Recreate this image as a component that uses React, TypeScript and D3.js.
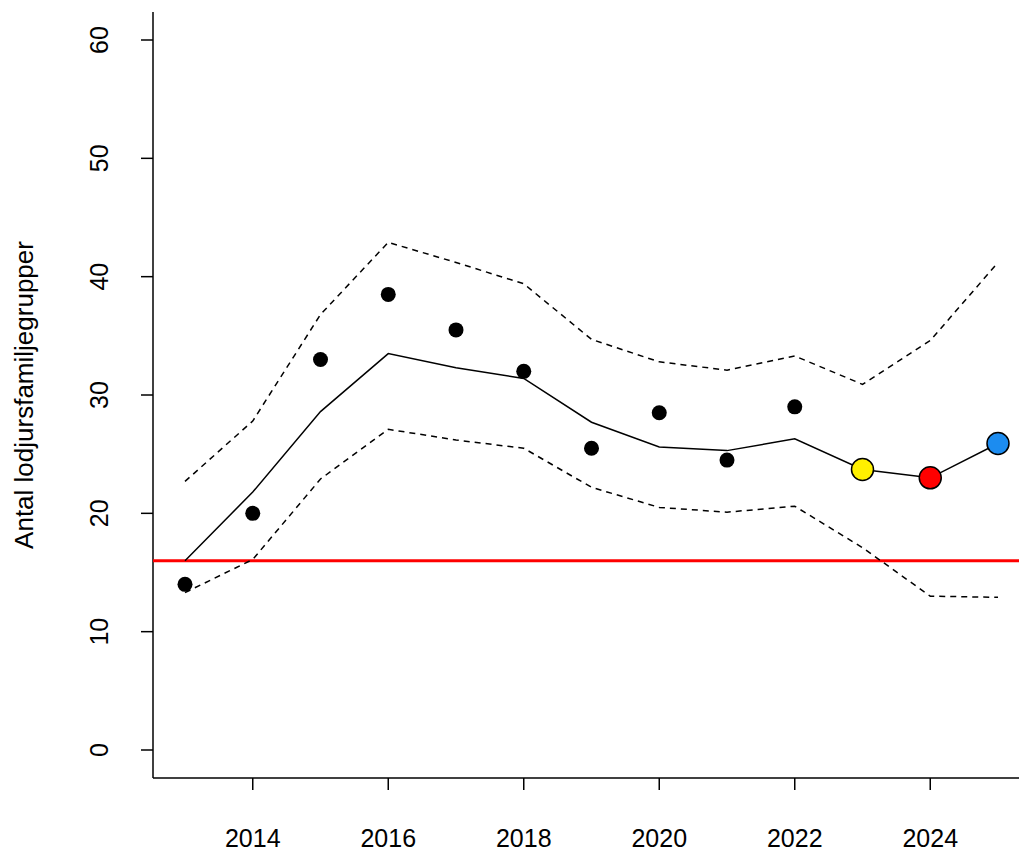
import React from "react";
import * as d3 from "d3";

const years = [2013,2014,2015,2016,2017,2018,2019,2020,2021,2022,2023,2024,2025];
const observed = [14,20,33,38.5,35.5,32,25.5,28.5,24.5,29];
const fitted = [16,21.8,28.6,33.5,32.3,31.4,27.7,25.6,25.3,26.3,23.7,23.0,25.9];
const upper = [22.7,27.8,36.8,42.9,41.2,39.4,34.7,32.8,32.1,33.3,30.9,34.6,41.2];
const lower = [13.3,16.1,22.9,27.1,26.2,25.5,22.2,20.5,20.1,20.6,17.1,13.0,12.9];
const forecastYears = [2023,2024,2025];
const forecastColors = ["#FFF000","#FF0000","#1C8CF0"];
const threshold = 16;
const xTicks = [2014,2016,2018,2020,2022,2024];
const yTicks = [0,10,20,30,40,50,60];

export default function App() {
  const x = d3.scaleLinear().domain([2013, 2025]).range([185, 998]);
  const y = d3.scaleLinear().domain([0, 60]).range([750, 40]);
  const line = d3.line<number>().x((_, i) => x(years[i])).y(d => y(d));
  const font = "'Liberation Sans', Arial, sans-serif";
  return (
    <svg width={1019} height={849} style={{ position: "absolute", left: 0, top: 0, background: "#fff" }}>
      <line x1={153} y1={12} x2={153} y2={778} stroke="#000" strokeWidth={1.5} />
      <line x1={153} y1={778} x2={1019} y2={778} stroke="#000" strokeWidth={1.5} />
      {yTicks.map(t => (
        <g key={t}>
          <line x1={141} x2={153} y1={y(t)} y2={y(t)} stroke="#000" strokeWidth={1.5} />
          <text transform={`translate(108,${y(t)}) rotate(-90)`} textAnchor="middle" fontSize={25} fontFamily={font}>{t}</text>
        </g>
      ))}
      {xTicks.map(t => (
        <g key={t}>
          <line x1={x(t)} x2={x(t)} y1={778} y2={790} stroke="#000" strokeWidth={1.5} />
          <text x={x(t)} y={847} textAnchor="middle" fontSize={25} fontFamily={font}>{t}</text>
        </g>
      ))}
      <text transform="translate(33,395) rotate(-90)" textAnchor="middle" fontSize={26} fontFamily={font}>Antal lodjursfamiljegrupper</text>
      <line x1={153} x2={1019} y1={y(threshold)} y2={y(threshold)} stroke="#FF0000" strokeWidth={3} />
      <path d={line(upper)!} fill="none" stroke="#000" strokeWidth={1.5} strokeDasharray="6,5" />
      <path d={line(lower)!} fill="none" stroke="#000" strokeWidth={1.5} strokeDasharray="6,5" />
      <path d={line(fitted)!} fill="none" stroke="#000" strokeWidth={1.5} />
      {observed.map((v, i) => (
        <circle key={i} cx={x(years[i])} cy={y(v)} r={7.5} fill="#000" />
      ))}
      {forecastYears.map((yr, i) => (
        <circle key={yr} cx={x(yr)} cy={y(fitted[years.indexOf(yr)])} r={11} fill={forecastColors[i]} stroke="#000" strokeWidth={1.5} />
      ))}
    </svg>
  );
}
